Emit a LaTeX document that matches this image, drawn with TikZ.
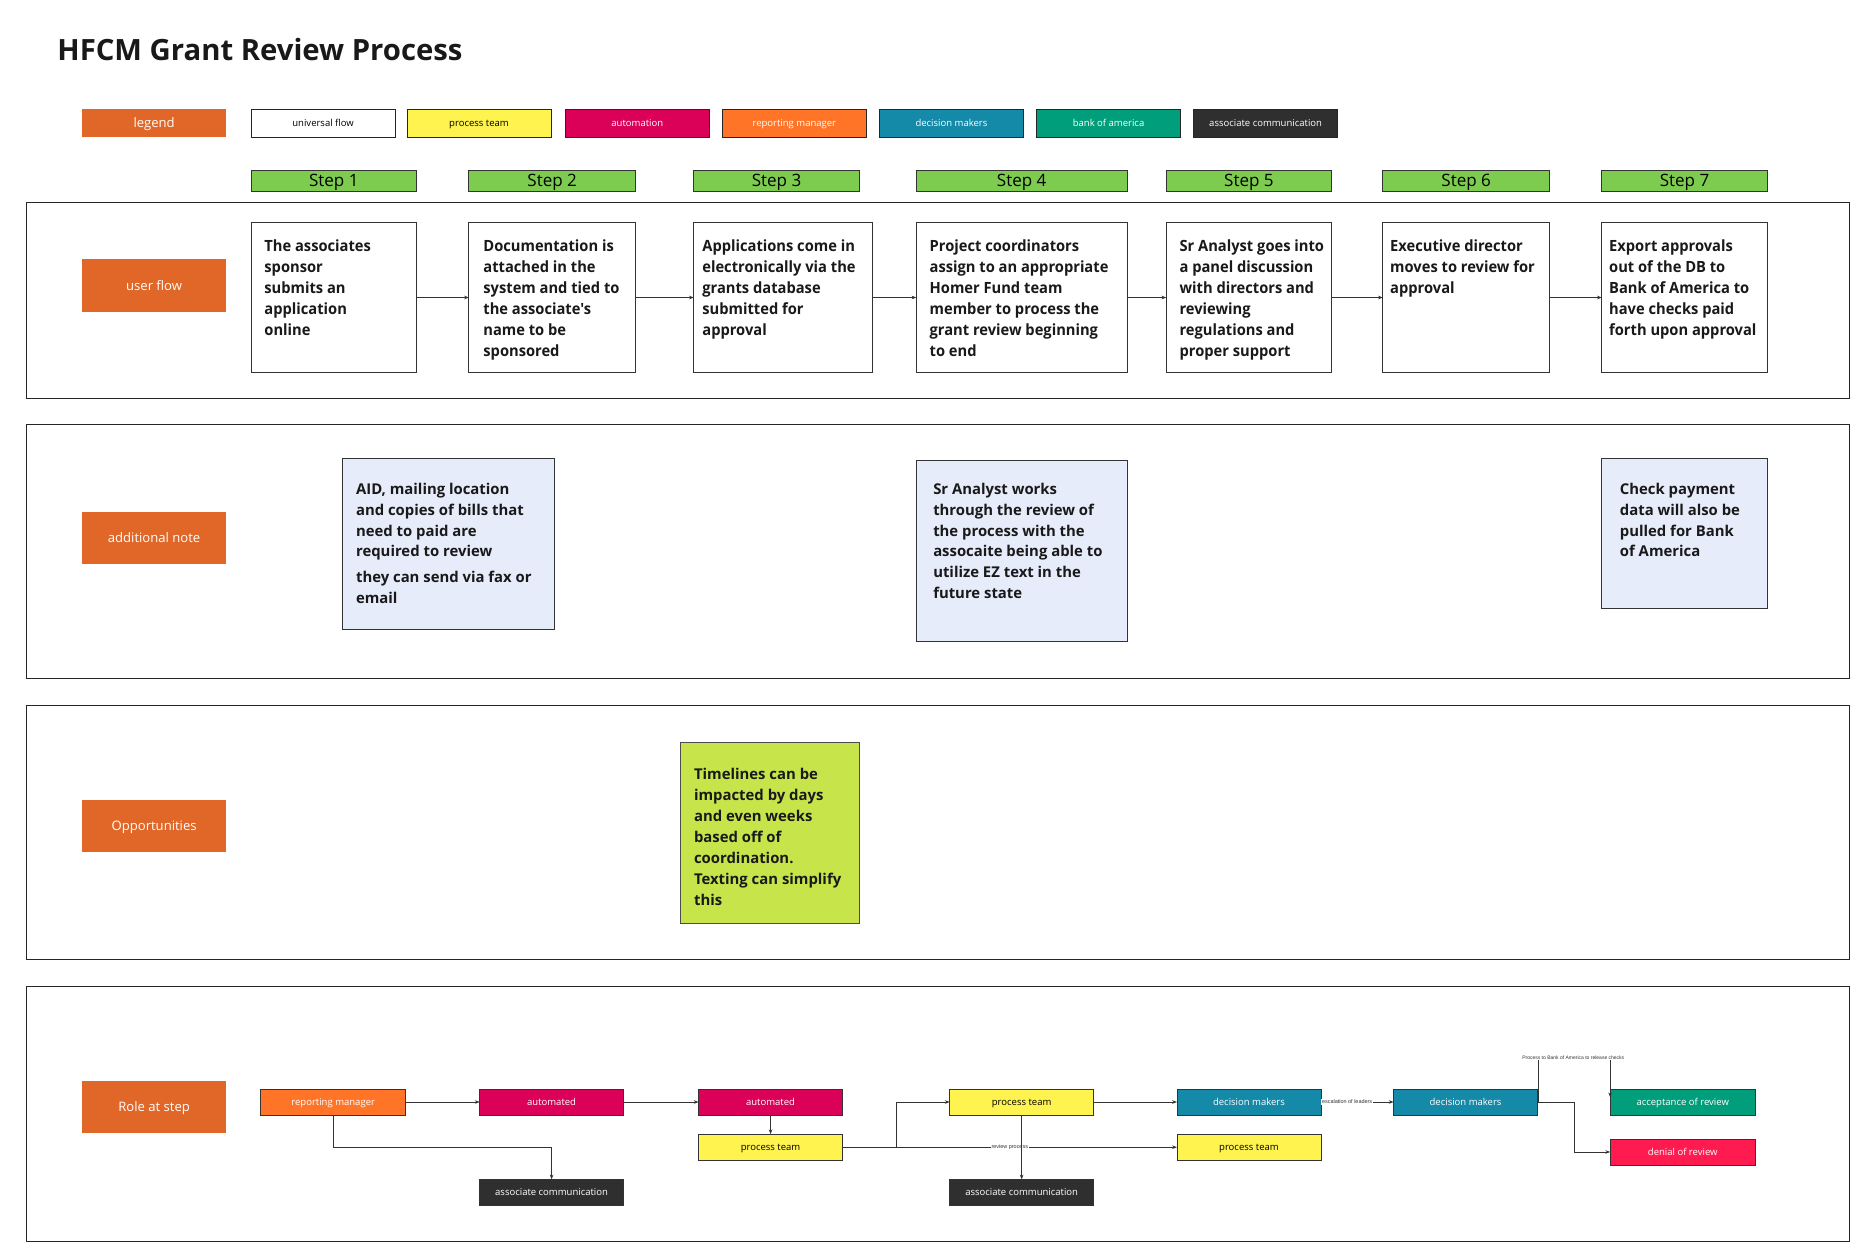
\documentclass[tikz,border=0pt]{standalone}
\usepackage{fontspec}
\setmainfont{Open Sans}
\newfontfamily\condfont[FakeStretch=0.95]{Open Sans}
\newfontfamily\arialfont{Liberation Sans}
\usetikzlibrary{arrows.meta}
\definecolor{laneor}{HTML}{E06727}
\definecolor{repor}{HTML}{FF7426}
\definecolor{magen}{HTML}{DB0058}
\definecolor{yell}{HTML}{FFF350}
\definecolor{teal}{HTML}{1589A8}
\definecolor{boa}{HTML}{009E7B}
\definecolor{darkc}{HTML}{2F2F2F}
\definecolor{denred}{HTML}{FF1A4F}
\definecolor{stepg}{HTML}{7ECC4F}
\definecolor{notef}{HTML}{E6ECFA}
\definecolor{limef}{HTML}{C8E44B}
\definecolor{linec}{HTML}{333333}
\newcommand\bx[7]{\node[#6, minimum width={#4-#2}, minimum height={#5-#3}, inner sep=0pt, outer sep=0pt] (#1) at ({(#2+#4)/2},{(#3+#5)/2}) {#7};}
\tikzset{
  lane/.style={draw=black!85, line width=1pt},
  lanelbl/.style={fill=laneor, text=white, text height=7.9pt, text depth=0pt, font=\fontsize{11}{12}\selectfont},
  leg/.style={draw=black!85, line width=0.6pt, text height=5.7pt, text depth=0pt, font=\fontsize{8}{9}\selectfont},
  stephd/.style={fill=stepg, draw=black!80, line width=0.7pt, text height=10.2pt, text depth=0pt, font=\fontsize{14.3}{15}\selectfont},
  flowbox/.style={draw=black!80, line width=0.7pt, fill=white},
  notebox/.style={draw=linec, line width=0.7pt, fill=notef},
  oppbox/.style={draw=black!70, line width=0.7pt, fill=limef},
  role/.style={draw=black!80, line width=0.6pt, text height=5.7pt, text depth=0pt, font=\fontsize{8}{9}\selectfont},
  flowtxt/.style={anchor=north west, inner sep=0pt, align=left, text=black!90, font=\condfont\bfseries\fontsize{13}{17.7}\selectfont},
  notetxt/.style={anchor=north west, inner sep=0pt, align=left, text=black!90, font=\bfseries\fontsize{12.5}{17.6}\selectfont},
  arr/.style={draw=linec, line width=0.6pt, -{Stealth[length=4pt,width=3pt]}},
  tinylbl/.style={fill=white, inner sep=0.6pt, text=black!80, font=\arialfont\fontsize{4.6}{5}\selectfont}
}
\begin{document}
\begin{tikzpicture}[x=1pt,y=-1pt]
\useasboundingbox[fill=white] (0,0) rectangle (1568,1044);
% title
\node[anchor=west, inner sep=0pt, text=black!90, font=\bfseries\fontsize{24.6}{28}\selectfont] (title) at (48,41.5) {HFCM Grant Review Process};
% legend
\bx{leg0}{69}{92}{190}{115}{lanelbl}{legend}
\bx{leg1}{211}{92}{332}{115}{leg, fill=white}{universal flow}
\bx{leg2}{342}{92}{463}{115}{leg, fill=yell}{process team}
\bx{leg3}{475}{92}{596}{115}{leg, fill=magen, text=white}{automation}
\bx{leg4}{607}{92}{728}{115}{leg, fill=repor, text=white}{reporting manager}
\bx{leg5}{739}{92}{860}{115}{leg, fill=teal, text=white}{decision makers}
\bx{leg6}{871}{92}{992}{115}{leg, fill=boa, text=white}{bank of america}
\bx{leg7}{1003}{92}{1124}{115}{leg, fill=darkc, text=white}{associate communication}
% steps
\bx{s1}{211}{143}{350}{161}{stephd}{Step 1}
\bx{s2}{394}{143}{534}{161}{stephd}{Step 2}
\bx{s3}{583}{143}{722}{161}{stephd}{Step 3}
\bx{s4}{770}{143}{947}{161}{stephd}{Step 4}
\bx{s5}{980}{143}{1119}{161}{stephd}{Step 5}
\bx{s6}{1162}{143}{1302}{161}{stephd}{Step 6}
\bx{s7}{1346}{143}{1485}{161}{stephd}{Step 7}
% lanes
\bx{laneA}{22}{170}{1554}{335}{lane}{}
\bx{laneB}{22}{357}{1554}{570}{lane}{}
\bx{laneC}{22}{593}{1554}{806}{lane}{}
\bx{laneD}{22}{829}{1554}{1043}{lane}{}
\bx{lA}{69}{218}{190}{262}{lanelbl}{user flow}
\bx{lB}{69}{430}{190}{474}{lanelbl}{additional note}
\bx{lC}{69}{672}{190}{716}{lanelbl}{Opportunities}
\bx{lD}{69}{908}{190}{952}{lanelbl}{Role at step}
% user flow boxes
\bx{u1}{211}{187}{350}{313}{flowbox}{}
\bx{u2}{394}{187}{534}{313}{flowbox}{}
\bx{u3}{583}{187}{733}{313}{flowbox}{}
\bx{u4}{770}{187}{947}{313}{flowbox}{}
\bx{u5}{980}{187}{1119}{313}{flowbox}{}
\bx{u6}{1162}{187}{1302}{313}{flowbox}{}
\bx{u7}{1346}{187}{1485}{313}{flowbox}{}
\node[flowtxt] (ut1) at (222,201) {The associates\\sponsor\\submits an\\application\\online};
\node[flowtxt] (ut2) at (406,201) {Documentation is\\attached in the\\system and tied to\\the associate's\\name to be\\sponsored};
\node[flowtxt] (ut3) at (590,201) {Applications come in\\electronically via the\\grants database\\submitted for\\approval};
\node[flowtxt] (ut4) at (781,201) {Project coordinators\\assign to an appropriate\\Homer Fund team\\member to process the\\grant review beginning\\to end};
\node[flowtxt] (ut5) at (991,201) {Sr Analyst goes into\\a panel discussion\\with directors and\\reviewing\\regulations and\\proper support};
\node[flowtxt] (ut6) at (1168,201) {Executive director\\moves to review for\\approval};
\node[flowtxt] (ut7) at (1352,201) {Export approvals\\out of the DB to\\Bank of America to\\have checks paid\\forth upon approval};
\draw[arr] (u1) -- (u2);
\draw[arr] (u2) -- (u3);
\draw[arr] (u3) -- (u4);
\draw[arr] (u4) -- (u5);
\draw[arr] (u5) -- (u6);
\draw[arr] (u6) -- (u7);
% notes
\bx{n1}{288}{385}{466}{529}{notebox}{}
\bx{n2}{770}{387}{947}{539}{notebox}{}
\bx{n3}{1346}{385}{1485}{511}{notebox}{}
\node[notetxt] (nt1) at (299,405.5) {AID, mailing location\\and copies of bills that\\need to paid are\\required to review\\[4pt]they can send via fax or\\email};
\node[notetxt] (nt2) at (784,405.5) {Sr Analyst works\\through the review of\\the process with the\\assocaite being able to\\utilize EZ text in the\\future state};
\node[notetxt] (nt3) at (1361,405.5) {Check payment\\data will also be\\pulled for Bank\\of America};
% opportunities
\bx{o1}{572}{624}{722}{776}{oppbox}{}
\node[notetxt] (ot1) at (583,645.5) {Timelines can be\\impacted by days\\and even weeks\\based off of\\coordination.\\Texting can simplify\\this};
% roles
\bx{rm}{219}{915}{341}{937}{role, fill=repor, text=white}{reporting manager}
\bx{au1}{403}{915}{524}{937}{role, fill=magen, text=white}{automated}
\bx{au2}{587}{915}{708}{937}{role, fill=magen, text=white}{automated}
\bx{pt3}{587}{953}{708}{975}{role, fill=yell}{process team}
\bx{ac1}{403}{991}{524}{1013}{role, fill=darkc, text=white}{associate communication}
\bx{pt4}{798}{915}{919}{937}{role, fill=yell}{process team}
\bx{ac2}{798}{991}{919}{1013}{role, fill=darkc, text=white}{associate communication}
\bx{dm1}{989}{915}{1110}{937}{role, fill=teal, text=white}{decision makers}
\bx{pt5}{989}{953}{1110}{975}{role, fill=yell}{process team}
\bx{dm2}{1171}{915}{1292}{937}{role, fill=teal, text=white}{decision makers}
\bx{acc}{1353}{915}{1475}{937}{role, fill=boa, text=white}{acceptance of review}
\bx{den}{1353}{957}{1475}{979}{role, fill=denred, text=white}{denial of review}
\coordinate (accin) at (1353,922);
\draw[arr] (rm) -- (au1);
\draw[arr] (rm.south) -- ++(0,27) -| (ac1.north);
\draw[arr] (au1) -- (au2);
\draw[arr] (au2) -- (pt3);
\draw[arr] (pt3.east) -- ++(45,0) |- (pt4.west);
\draw[arr] (pt3.east) -- (pt5.west) node[tinylbl, pos=0.5] (lrev) {review process};
\draw[arr] (pt4) -- (ac2);
\draw[arr] (pt4) -- (dm1);
\draw[arr] (dm1) -- (dm2) node[tinylbl, pos=0.36] (lesc) {escalation of leaders};
\draw[arr] (dm2.east) -- ++(31,0) |- (den.west);
\draw[arr] (dm2.east) -- ++(1,0) -- ++(0,-37) -| (accin);
\node[tinylbl, font=\arialfont\fontsize{4.2}{5}\selectfont] (lboa) at (1322,888.5) {Process to Bank of America to release checks};
\end{tikzpicture}
\end{document}
